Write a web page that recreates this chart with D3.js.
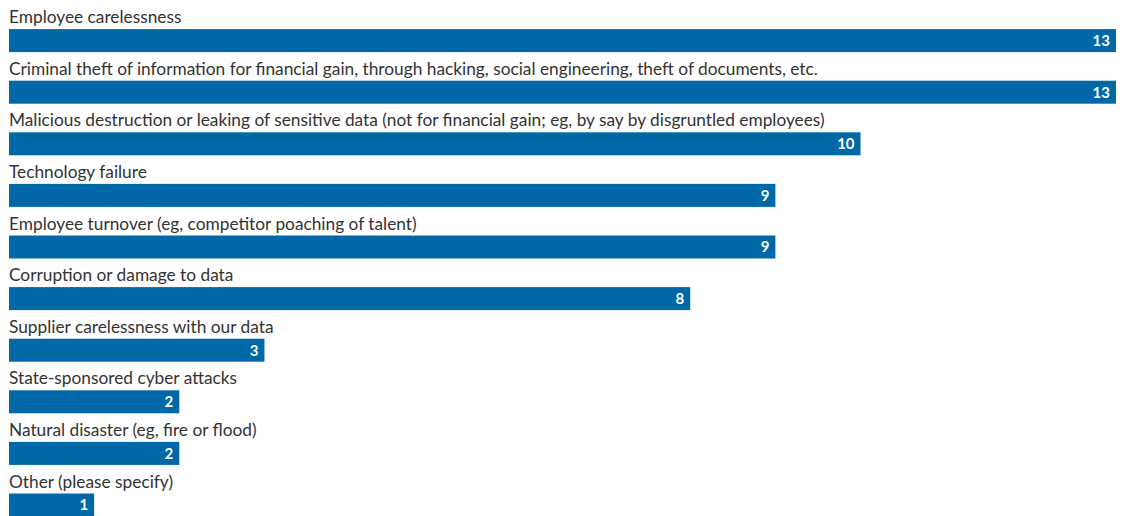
<!DOCTYPE html>
<html>
<head>
<meta charset="utf-8">
<script src="https://cdn.jsdelivr.net/npm/d3@7"></script>
<style>
  body { margin: 0; background: #fff; }
  text { font-family: Lato, "Open Sans", sans-serif; }
</style>
</head>
<body>
<div id="chart"></div>
<script>
var categories = [
  "Employee carelessness",
  "Criminal theft of information for financial gain, through hacking, social engineering, theft of documents, etc.",
  "Malicious destruction or leaking of sensitive data (not for financial gain; eg, by say by disgruntled employees)",
  "Technology failure",
  "Employee turnover (eg, competitor poaching of talent)",
  "Corruption or damage to data",
  "Supplier carelessness with our data",
  "State-sponsored cyber attacks",
  "Natural disaster (eg, fire or flood)",
  "Other (please specify)"
]
var values = [13, 13, 10, 9, 9, 8, 3, 2, 2, 1]

var width = 1132, height = 516

var svg = d3.select("#chart")
  .append("svg")
    .attr("width", width)
    .attr("height", height)

var x = d3.scaleLinear()
  .domain([0, 13])
  .range([9, 1116])

// each row: label on top, bar below
var y = d3.scaleBand()
  .domain(categories)
  .range([0.5, 516.5])
  .paddingInner(0)

var barH = 23

var rows = svg.selectAll("g.row")
  .data(categories)
  .enter().append("g")
    .attr("class", "row")
    .attr("transform", function(d) { return "translate(0," + (y(d) + y.bandwidth() - barH) + ")" })

rows.append("text")
  .attr("x", 9)
  .attr("y", -6)
  .style("font-size", "17.3px")
  .style("fill", "#333")
  .text(function(d) { return d })

rows.append("rect")
  .attr("x", x(0))
  .attr("y", 0)
  .attr("width", function(d, i) { return x(values[i]) - x(0) })
  .attr("height", barH)
  .style("fill", "#0068a6")

rows.append("text")
  .attr("x", function(d, i) { return x(values[i]) - 6 })
  .attr("y", barH / 2)
  .attr("dy", ".36em")
  .attr("text-anchor", "end")
  .style("font-size", "15px")
  .style("font-weight", "bold")
  .style("fill", "#fff")
  .text(function(d, i) { return values[i] })
</script>
</body>
</html>
